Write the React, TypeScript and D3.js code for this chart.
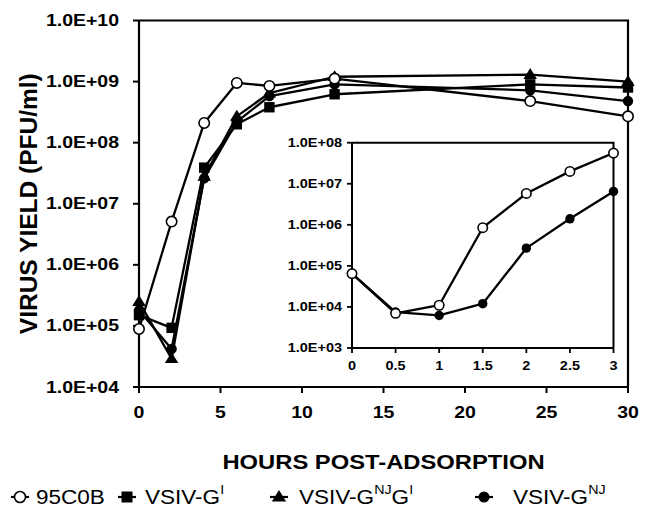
import React from "react";
import * as d3 from "d3";

const mainHours = [0, 2, 4, 6, 8, 12, 24, 30];
const yield95C0B = [8.9e4, 5.1e6, 2.1e8, 9.5e8, 8.5e8, 1.12e9, 4.8e8, 2.7e8];
const yieldGI = [1.5e5, 9.3e4, 3.9e7, 2.0e8, 3.8e8, 6.2e8, 9.0e8, 8.0e8];
const yieldGNJGI = [2.5e5, 2.9e4, 2.8e7, 2.7e8, 6.5e8, 1.2e9, 1.3e9, 1.0e9];
const yieldGNJ = [1.8e5, 4.2e4, 2.6e7, 2.2e8, 5.8e8, 9.0e8, 7.2e8, 4.8e8];

const insetHours = [0, 0.5, 1, 1.5, 2, 2.5, 3];
const inset95C0B = [6.5e4, 7.0e3, 1.1e4, 8.5e5, 5.8e6, 2.0e7, 5.6e7];
const insetGNJ = [6.5e4, 7.5e3, 6.2e3, 1.2e4, 2.7e5, 1.4e6, 6.5e6];

const mainYTicks = [1e4, 1e5, 1e6, 1e7, 1e8, 1e9, 1e10];
const mainXTicks = [0, 5, 10, 15, 20, 25, 30];
const insetYTicks = [1e3, 1e4, 1e5, 1e6, 1e7, 1e8];
const insetXTicks = [0, 0.5, 1, 1.5, 2, 2.5, 3];

const FONT = "'Liberation Sans', Arial, sans-serif";
const SX = 1.16;

const fmtE = (v: number) => {
  const e = Math.round(Math.log10(v));
  return "1.0E+" + (e < 10 ? "0" + e : String(e));
};

type MarkerKind = "open" | "square" | "triangle" | "filled";

function Marker({ kind, x, y, s }: { kind: MarkerKind; x: number; y: number; s: number }) {
  if (kind === "open")
    return <circle cx={x} cy={y} r={s} fill="#fff" stroke="#000" strokeWidth={1.6} />;
  if (kind === "filled") return <circle cx={x} cy={y} r={s} fill="#000" />;
  if (kind === "square")
    return <rect x={x - s} y={y - s} width={2 * s} height={2 * s} fill="#000" />;
  const h = s * 2.1;
  const w = s * 1.3;
  return (
    <path
      d={`M${x},${y - h * 0.6} L${x + w},${y + h * 0.4} L${x - w},${y + h * 0.4} Z`}
      fill="#000"
    />
  );
}

function SText({
  x,
  y,
  anchor,
  size,
  weight,
  sx = SX,
  children,
}: {
  x: number;
  y: number;
  anchor: string;
  size: number;
  weight: string;
  sx?: number;
  children: React.ReactNode;
}) {
  return (
    <text
      transform={`translate(${x},${y}) scale(${sx},1)`}
      textAnchor={anchor}
      fontSize={size}
      fontWeight={weight}
      fontFamily={FONT}
      dominantBaseline="central"
    >
      {children}
    </text>
  );
}

export default function App() {
  const W = 650;
  const H = 517;

  const x = d3.scaleLinear().domain([0, 30]).range([139, 628]);
  const y = d3.scaleLog().domain([1e4, 1e10]).range([387, 20.5]);

  const ix = d3.scaleLinear().domain([0, 3]).range([352, 613.5]);
  const iy = d3.scaleLog().domain([1e3, 1e8]).range([348, 142.7]);

  const mainSeries: { kind: MarkerKind; vals: number[] }[] = [
    { kind: "square", vals: yieldGI },
    { kind: "triangle", vals: yieldGNJGI },
    { kind: "filled", vals: yieldGNJ },
    { kind: "open", vals: yield95C0B },
  ];
  const insetSeries: { kind: MarkerKind; vals: number[] }[] = [
    { kind: "filled", vals: insetGNJ },
    { kind: "open", vals: inset95C0B },
  ];

  const line = d3
    .line<[number, number]>()
    .x((d) => d[0])
    .y((d) => d[1]);

  const [x0, x1] = x.range();
  const [yb, yt] = y.range();
  const [ix0, ix1] = ix.range();
  const [iyb, iyt] = iy.range();

  const legendY = 497;
  const sup = (t: string) => (
    <tspan dy={-7.5} fontSize={13}>
      {t}
    </tspan>
  );
  const legendItems: { kind: MarkerKind; mx: number; tx: number; label: React.ReactNode }[] = [
    { kind: "open", mx: 20, tx: 36, label: "95C0B" },
    {
      kind: "square",
      mx: 127,
      tx: 145,
      label: <>VSIV-G{sup("I")}</>,
    },
    {
      kind: "triangle",
      mx: 279,
      tx: 299,
      label: (
        <>
          VSIV-G{sup("NJ")}
          <tspan dy={7.5}>G</tspan>
          {sup("I")}
        </>
      ),
    },
    {
      kind: "filled",
      mx: 484,
      tx: 513,
      label: <>VSIV-G{sup("NJ")}</>,
    },
  ];

  return (
    <svg
      width={W}
      height={H}
      style={{ position: "absolute", left: 0, top: 0, background: "#fff" }}
    >
      <rect width={W} height={H} fill="#fff" />

      {/* main frame */}
      <path
        d={`M${x0},${yt} L${x1},${yt} L${x1},${yb} M${x0},${yt} L${x0},${yb} L${x1},${yb}`}
        fill="none"
        stroke="#000"
        strokeWidth={2.2}
      />
      {mainYTicks.map((t) => (
        <g key={"my" + t}>
          <line x1={x0 - 6} x2={x0} y1={y(t)} y2={y(t)} stroke="#000" strokeWidth={2} />
          <SText x={x0 - 20} y={y(t)} anchor="end" size={16.8} weight="bold">
            {fmtE(t)}
          </SText>
        </g>
      ))}
      {mainXTicks.map((t) => (
        <g key={"mx" + t}>
          <line x1={x(t)} x2={x(t)} y1={yb} y2={yb + 6} stroke="#000" strokeWidth={2} />
          <SText x={x(t)} y={yb + 25} anchor="middle" size={16.8} weight="bold">
            {t}
          </SText>
        </g>
      ))}
      <text
        transform={`translate(28,${(yb + yt) / 2}) rotate(-90)`}
        textAnchor="middle"
        dominantBaseline="central"
        fontSize={24.5}
        fontWeight="bold"
        fontFamily={FONT}
      >
        VIRUS YIELD (PFU/ml)
      </text>
      <SText x={(x0 + x1) / 2} y={462} anchor="middle" size={20.5} weight="bold">
        HOURS POST-ADSORPTION
      </SText>

      {/* main series */}
      {mainSeries.map((s) => (
        <path
          key={"ml" + s.kind}
          d={line(s.vals.map((v, i) => [x(mainHours[i]), y(v)]) as [number, number][]) || ""}
          fill="none"
          stroke="#000"
          strokeWidth={2.3}
          strokeLinejoin="round"
        />
      ))}
      {mainSeries.map((s) =>
        s.vals.map((v, i) => (
          <Marker key={"mm" + s.kind + i} kind={s.kind} x={x(mainHours[i])} y={y(v)} s={5.2} />
        ))
      )}

      {/* inset */}
      <rect x={ix0} y={iyt} width={ix1 - ix0} height={iyb - iyt} fill="#fff" />
      <path
        d={`M${ix0},${iyt} L${ix1},${iyt} L${ix1},${iyb} M${ix0},${iyt} L${ix0},${iyb} L${ix1},${iyb}`}
        fill="none"
        stroke="#000"
        strokeWidth={2}
      />
      {insetYTicks.map((t) => (
        <g key={"iy" + t}>
          <line x1={ix0 - 5} x2={ix0} y1={iy(t)} y2={iy(t)} stroke="#000" strokeWidth={1.8} />
          <SText x={ix0 - 10} y={iy(t)} anchor="end" size={12.5} weight="bold">
            {fmtE(t)}
          </SText>
        </g>
      ))}
      {insetXTicks.map((t) => (
        <g key={"ix" + t}>
          <line x1={ix(t)} x2={ix(t)} y1={iyb} y2={iyb + 5} stroke="#000" strokeWidth={1.8} />
          <SText x={ix(t)} y={iyb + 18} anchor="middle" size={12.5} weight="bold">
            {t}
          </SText>
        </g>
      ))}
      {insetSeries.map((s) => (
        <path
          key={"il" + s.kind}
          d={line(s.vals.map((v, i) => [ix(insetHours[i]), iy(v)]) as [number, number][]) || ""}
          fill="none"
          stroke="#000"
          strokeWidth={2.3}
          strokeLinejoin="round"
        />
      ))}
      {insetSeries.map((s) =>
        s.vals.map((v, i) => (
          <Marker key={"im" + s.kind + i} kind={s.kind} x={ix(insetHours[i])} y={iy(v)} s={4.7} />
        ))
      )}

      {/* legend */}
      {legendItems.map((it) => (
        <g key={"lg" + it.kind}>
          <line x1={it.mx - 9} x2={it.mx + 9} y1={legendY} y2={legendY} stroke="#000" strokeWidth={2.2} />
          <Marker kind={it.kind} x={it.mx} y={legendY} s={5.5} />
          <SText x={it.tx} y={legendY} anchor="start" size={20.5} sx={1.1} weight="normal">
            {it.label}
          </SText>
        </g>
      ))}
    </svg>
  );
}
